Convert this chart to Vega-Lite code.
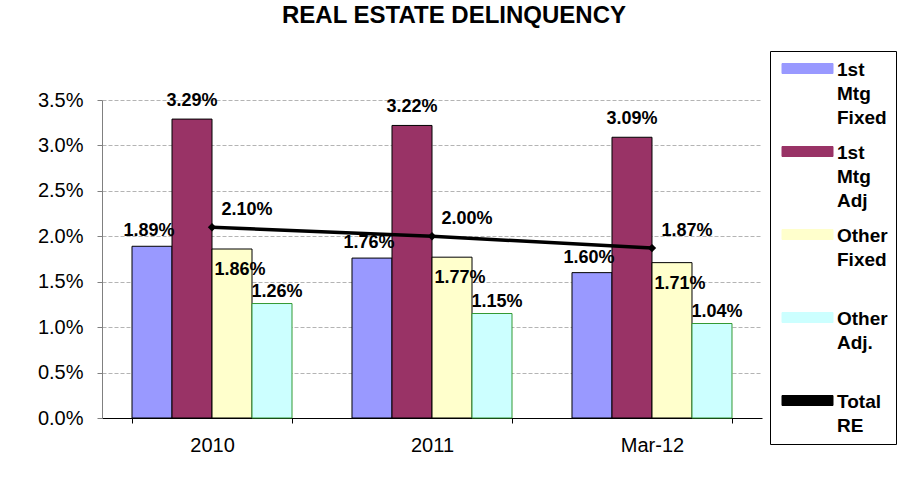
{
  "$schema": "https://vega.github.io/schema/vega-lite/v6.json",
  "width": 660,
  "height": 318,
  "autosize": "none",
  "padding": {"left": 102, "top": 100, "right": 137, "bottom": 74},
  "background": "white",
  "title": {
    "text": "REAL ESTATE DELINQUENCY",
    "font": "Liberation Sans",
    "fontSize": 24,
    "fontWeight": "bold",
    "color": "black",
    "anchor": "middle",
    "frame": "group",
    "baseline": "alphabetic",
    "dx": 22,
    "offset": 4
  },
  "config": {
    "view": {"stroke": null},
    "font": "Liberation Sans",
    "style": {"guide-label": {"lineHeight": 24, "dy": -8}},
    "axis": {"labelFont": "Liberation Sans", "labelColor": "black", "labelFontSize": 20, "title": null},
    "legend": {"labelFont": "Liberation Sans"}
  },
  "data": {
    "values": [
      {"period": "2010", "series": "1st Mtg Fixed", "value": 0.0189},
      {"period": "2010", "series": "1st Mtg Adj", "value": 0.0329},
      {"period": "2010", "series": "Other Fixed", "value": 0.0186},
      {"period": "2010", "series": "Other Adj.", "value": 0.0126},
      {"period": "2010", "series": "Total RE", "value": 0.021},
      {"period": "2011", "series": "1st Mtg Fixed", "value": 0.0176},
      {"period": "2011", "series": "1st Mtg Adj", "value": 0.0322},
      {"period": "2011", "series": "Other Fixed", "value": 0.0177},
      {"period": "2011", "series": "Other Adj.", "value": 0.0115},
      {"period": "2011", "series": "Total RE", "value": 0.02},
      {"period": "Mar-12", "series": "1st Mtg Fixed", "value": 0.016},
      {"period": "Mar-12", "series": "1st Mtg Adj", "value": 0.0309},
      {"period": "Mar-12", "series": "Other Fixed", "value": 0.0171},
      {"period": "Mar-12", "series": "Other Adj.", "value": 0.0104},
      {"period": "Mar-12", "series": "Total RE", "value": 0.0187}
    ]
  },
  "encoding": {
    "x": {
      "field": "period",
      "type": "nominal",
      "sort": ["2010", "2011", "Mar-12"],
      "scale": {"paddingInner": 0.2727, "paddingOuter": 0.1364},
      "axis": {
        "labelAngle": 0,
        "domainColor": "black",
        "tickColor": "black",
        "tickSize": 5,
        "tickBand": "extent",
        "labelPadding": 20,
        "grid": false
      }
    },
    "y": {
      "field": "value",
      "type": "quantitative",
      "scale": {"domain": [0, 0.035], "nice": false},
      "axis": {
        "format": ".1%",
        "values": [0, 0.005, 0.01, 0.015, 0.02, 0.025, 0.03, 0.035],
        "domainColor": "#808080",
        "tickColor": "#808080",
        "tickSize": 5,
        "labelPadding": 14,
        "labelOffset": 8,
        "grid": true,
        "gridColor": "#b4b4b4",
        "gridDash": [4, 2],
        "gridWidth": 1
      }
    }
  },
  "layer": [
    {
      "transform": [{"filter": "datum.series !== 'Total RE'"}],
      "mark": {"type": "bar", "strokeWidth": 1},
      "encoding": {
        "xOffset": {"field": "series", "type": "nominal", "sort": ["1st Mtg Fixed", "1st Mtg Adj", "Other Fixed", "Other Adj."], "scale": {"domain": ["1st Mtg Fixed", "1st Mtg Adj", "Other Fixed", "Other Adj."], "paddingInner": 0, "paddingOuter": 0}},
        "color": {
          "field": "series",
          "type": "nominal",
          "scale": {
            "domain": ["1st Mtg Fixed", "1st Mtg Adj", "Other Fixed", "Other Adj.", "Total RE"],
            "range": ["#9999FF", "#993366", "#FFFFCC", "#CCFFFF", "#000000"]
          },
          "legend": {
            "title": null,
            "orient": "none",
            "legendX": 668,
            "legendY": -49,
            "strokeColor": "black",
            "fillColor": "white",
            "padding": 8,
            "symbolSize": 100,
            "symbolType": "M-1.1,-1H9.1V1H-1.1Z",
            "symbolStrokeColor": "black",
            "symbolStrokeWidth": 1,
            "labelFontSize": 19,
            "labelFontWeight": "bold",
            "labelColor": "black",
            "labelOffset": 40,
            "labelLimit": 0,
            "labelBaseline": "top",
            "gridAlign": "all",
            "rowPadding": 14,
            "labelExpr": "split(datum.label, ' ')"
          }
        },
        "stroke": {"condition": {"test": "datum.series === 'Other Adj.'", "value": "#339933"}, "value": "black"}
      }
    },
    {
      "transform": [{"filter": "datum.series === 'Total RE'"}],
      "mark": {"type": "line", "strokeWidth": 3.5, "color": "black", "point": {"shape": "diamond", "size": 70, "filled": true, "color": "black"}},
      "encoding": {
        "color": {"field": "series", "type": "nominal", "legend": null}
      }
    },
    {
      "transform": [{"filter": "datum.series === '1st Mtg Fixed'"}],
      "mark": {"type": "text", "font": "Liberation Sans", "fontSize": 18, "fontWeight": "bold", "color": "black", "baseline": "middle", "dy": -15, "dx": -3},
      "encoding": {
        "xOffset": {"field": "series", "type": "nominal"},
        "text": {"field": "value", "type": "quantitative", "format": ".2%"}
      }
    },
    {
      "transform": [{"filter": "datum.series === '1st Mtg Adj'"}],
      "mark": {"type": "text", "font": "Liberation Sans", "fontSize": 18, "fontWeight": "bold", "color": "black", "baseline": "middle", "dy": -18},
      "encoding": {
        "xOffset": {"field": "series", "type": "nominal"},
        "text": {"field": "value", "type": "quantitative", "format": ".2%"}
      }
    },
    {
      "transform": [{"filter": "datum.series === 'Other Fixed'"}],
      "mark": {"type": "text", "font": "Liberation Sans", "fontSize": 18, "fontWeight": "bold", "color": "black", "baseline": "middle", "dy": 21, "dx": 8},
      "encoding": {
        "xOffset": {"field": "series", "type": "nominal"},
        "text": {"field": "value", "type": "quantitative", "format": ".2%"}
      }
    },
    {
      "transform": [{"filter": "datum.series === 'Other Adj.'"}],
      "mark": {"type": "text", "font": "Liberation Sans", "fontSize": 18, "fontWeight": "bold", "color": "black", "baseline": "middle", "dy": -12, "dx": 5},
      "encoding": {
        "xOffset": {"field": "series", "type": "nominal"},
        "text": {"field": "value", "type": "quantitative", "format": ".2%"}
      }
    },
    {
      "transform": [{"filter": "datum.series === 'Total RE'"}],
      "mark": {"type": "text", "font": "Liberation Sans", "fontSize": 18, "fontWeight": "bold", "color": "black", "baseline": "middle", "dy": -17, "dx": 35},
      "encoding": {
        "text": {"field": "value", "type": "quantitative", "format": ".2%"}
      }
    }
  ]
}
